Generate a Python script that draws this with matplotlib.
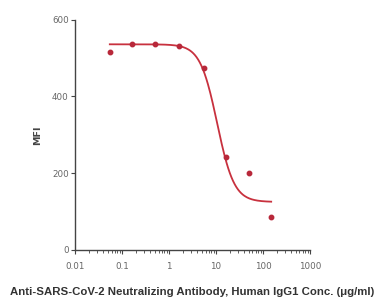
import numpy as np
import matplotlib.pyplot as plt
from matplotlib.ticker import LogLocator, FixedLocator

# measured points (conc in ug/ml, MFI)
conc = [0.055, 0.165, 0.5, 1.6, 5.5, 16, 50, 150]
mfi = [517, 537, 537, 532, 475, 243, 201, 86]

# fitted 4PL curve parameters
fit_top = 536
fit_bottom = 125
fit_ic50 = 10.6
fit_hill = 2.4

x_ticks = [0.01, 0.1, 1, 10, 100, 1000]
x_tick_labels = ['0.01', '0.1', '1', '10', '100', '1000']
y_ticks = [0, 200, 400, 600]

line_col = '#c8313e'
dot_col = '#b8283a'
axis_col = '#444444'

fig = plt.figure(figsize=(3.77, 3.04), dpi=100)
ax = fig.add_axes([0.199, 0.178, 0.623, 0.757])

xf = np.logspace(np.log10(conc[0]), np.log10(conc[-1]), 200)
yf = fit_bottom + (fit_top - fit_bottom) / (1 + (xf / fit_ic50) ** fit_hill)
ax.plot(xf, yf, color=line_col, lw=1.3)
ax.plot(conc, mfi, 'o', color=dot_col, ms=3.2)

ax.set_xscale('log')
ax.set_xlim(0.01, 1000)
ax.set_ylim(0, 600)
ax.xaxis.set_major_locator(FixedLocator(x_ticks))
ax.set_xticklabels(x_tick_labels)
ax.xaxis.set_minor_locator(LogLocator(base=10, subs=np.arange(2, 10), numticks=20))
ax.set_yticks(y_ticks)

for s in ['top', 'right']:
    ax.spines[s].set_visible(False)
for s in ['left', 'bottom']:
    ax.spines[s].set_color(axis_col)
    ax.spines[s].set_linewidth(1.0)

ax.tick_params(axis='both', which='major', direction='out', length=3, width=0.8,
               colors=axis_col, labelsize=6.3, labelcolor='#666666')
ax.tick_params(axis='x', which='major', pad=6)
ax.tick_params(axis='y', which='major', pad=1.5)
ax.tick_params(axis='x', which='minor', direction='out', length=1.8, width=0.6, colors=axis_col)

ax.set_ylabel('MFI', fontsize=6.8, color='#444444', fontweight='bold', labelpad=7)
ax.set_xlabel('Anti-SARS-CoV-2 Neutralizing Antibody, Human IgG1 Conc. (\u03bcg/ml)',
              fontsize=8.2, fontweight='bold', color='#333333', family='Liberation Sans',
              labelpad=11)

fig.savefig('out.png', dpi=100)
